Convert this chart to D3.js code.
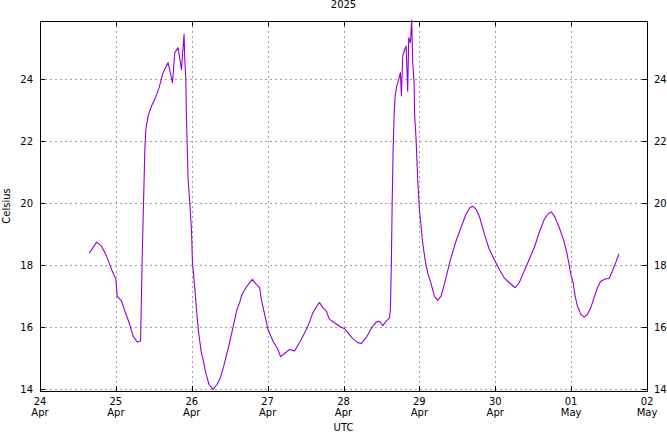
<!DOCTYPE html>
<html>
<head>
<meta charset="utf-8">
<script src="https://cdn.jsdelivr.net/npm/d3@7"></script>
<style>
  html, body { margin: 0; padding: 0; background: #fff; }
  svg { display: block; font-family: "DejaVu Sans", sans-serif; }
</style>
</head>
<body>
<svg id="chart" width="667" height="432"></svg>
<script>
// ---- data ----
const title = "2025";
const yLabel = "Celsius";
const xLabel = "UTC";
const startDate = "2025-04-24T00:00:00Z";
const endDate = "2025-05-02T00:00:00Z";
// hours since 24 Apr 00:00 UTC
const hours = [
  15.57, 17.91, 19.48, 21.06, 22.64, 24.0, 24.41, 25.80, 26.84, 28.20, 29.46, 30.73, 31.80,
  31.99, 32.31, 32.62, 33.16, 33.47, 34.20, 35.27, 36.32, 37.68, 38.94, 40.52, 41.91, 42.63,
  43.67, 44.75, 45.57, 45.79, 46.11, 46.33, 46.60, 46.85, 47.37, 47.91, 48.22, 48.63, 49.17,
  49.67, 50.31, 51.06, 51.57, 52.42, 53.46, 54.73, 55.99, 57.07, 58.11, 59.46, 61.04, 62.31,
  63.16, 63.70, 65.28, 67.17, 68.43, 69.48, 70.01, 71.06, 72.10, 73.68, 75.26, 76.11, 77.37,
  78.95, 80.53, 82.64, 84.73, 86.31, 87.89, 88.42, 89.47, 90.54, 91.58, 93.16, 94.74, 96.32,
  97.36, 98.94, 100.52, 101.59, 103.17, 104.75, 106.33, 107.37, 108.41, 109.49, 110.53,
  110.84, 111.16, 111.38, 111.70, 112.01, 112.33, 112.84, 113.47, 114.00, 114.32, 114.73,
  115.36, 115.80, 116.31, 116.62, 117.16, 117.57, 117.89, 118.33, 118.52, 118.96, 119.47,
  120.00, 120.54, 121.04, 121.80, 122.62, 123.70, 124.74, 125.78, 126.86, 127.90, 128.94,
  130.01, 131.59, 133.17, 134.75, 136.01, 136.84, 137.91, 138.95, 139.99, 141.07, 142.11,
  143.69, 145.27, 146.85, 148.43, 150.32, 151.58, 153.16, 154.74, 156.32, 157.90, 159.48,
  160.84, 161.79, 162.95, 164.22, 165.57, 166.52, 167.37, 167.91, 168.64, 169.27, 170.00,
  171.07, 172.11, 173.15, 174.22, 175.27, 176.31, 177.38, 178.96, 180.00, 181.05, 182.11,
  183.16
];
const celsius = [
  18.38, 18.74, 18.61, 18.29, 17.86, 17.54, 17.00, 16.84, 16.52, 16.14, 15.71, 15.52, 15.55,
  16.46, 18.18, 19.47, 21.73, 22.38, 22.81, 23.13, 23.35, 23.72, 24.21, 24.53, 23.88, 24.85,
  25.01, 24.31, 25.44, 24.64, 24.05, 22.70, 21.73, 20.76, 20.01, 19.15, 18.08, 17.65, 17.00,
  16.35, 15.71, 15.17, 14.96, 14.53, 14.15, 13.99, 14.15, 14.37, 14.74, 15.28, 15.98, 16.57,
  16.79, 17.00, 17.30, 17.54, 17.38, 17.27, 16.89, 16.41, 15.93, 15.55, 15.28, 15.05, 15.15,
  15.28, 15.23, 15.60, 16.03, 16.46, 16.73, 16.79, 16.63, 16.52, 16.25, 16.14, 16.03, 15.95,
  15.82, 15.63, 15.50, 15.47, 15.66, 15.95, 16.16, 16.19, 16.05, 16.19, 16.30,
  16.57, 18.18, 19.90, 21.73, 22.81, 23.45, 23.77, 23.99, 24.21, 23.45, 24.74,
  24.96, 25.06, 23.61, 25.33, 25.17, 25.90, 24.53, 23.88, 22.81, 22.05, 20.76,
  19.80, 19.26, 18.72, 18.18, 17.75, 17.40, 17.00, 16.86, 17.00, 17.38, 17.81,
  18.24, 18.77, 19.21, 19.64, 19.85, 19.90, 19.80, 19.58, 19.21, 18.83, 18.51,
  18.18, 17.86, 17.59, 17.43, 17.27, 17.43, 17.81, 18.18, 18.56, 19.05, 19.47,
  19.67, 19.71, 19.53, 19.21, 18.83, 18.45, 18.02, 17.70, 17.43, 17.00, 16.68,
  16.41, 16.32, 16.41, 16.63, 16.95, 17.27, 17.48, 17.56, 17.56, 17.81, 18.08,
  18.37
];
const xTickDays = ["24", "25", "26", "27", "28", "29", "30", "01", "02"];
const xTickMonths = ["Apr", "Apr", "Apr", "Apr", "Apr", "Apr", "Apr", "May", "May"];
const yTicks = [14, 16, 18, 20, 22, 24];
const yDomain = [13.94, 25.87];

// ---- chart ----
const svg = d3.select("#chart");
const pLeft = 40, pRight = 647, pTop = 21, pBottom = 391;
const t0 = new Date(startDate);
const x = d3.scaleUtc().domain([t0, new Date(endDate)]).range([pLeft, pRight]);
const y = d3.scaleLinear().domain(yDomain).range([pBottom, pTop]);
const points = hours.map((h, i) => ({ t: new Date(t0.getTime() + h * 3600e3), v: celsius[i] }));
const xTickDates = d3.utcDay.range(t0, d3.utcDay.offset(new Date(endDate), 1));

const grid = svg.append("g").attr("stroke", "#a0a0a0").attr("stroke-width", 1)
  .attr("stroke-dasharray", "2,3");
grid.selectAll("line.gx").data(xTickDates.slice(1, -1)).enter().append("line")
  .attr("x1", d => Math.round(x(d)) + 0.5).attr("x2", d => Math.round(x(d)) + 0.5)
  .attr("y1", pTop).attr("y2", pBottom);
grid.selectAll("line.gy").data(yTicks).enter().append("line")
  .attr("y1", d => Math.round(y(d)) + 0.5).attr("y2", d => Math.round(y(d)) + 0.5)
  .attr("x1", pLeft).attr("x2", pRight);

// data line
const line = d3.line().x(d => x(d.t)).y(d => y(d.v));
svg.append("path").datum(points)
  .attr("fill", "none").attr("stroke", "#9400d3").attr("stroke-width", 1.1)
  .attr("stroke-linejoin", "round")
  .attr("d", line);

// ticks
const tk = svg.append("g").attr("stroke", "#000").attr("stroke-width", 1);
const tl = 5;
xTickDates.forEach(d => {
  const px = Math.round(x(d)) + 0.5;
  tk.append("line").attr("x1", px).attr("x2", px).attr("y1", pBottom).attr("y2", pBottom - tl);
  tk.append("line").attr("x1", px).attr("x2", px).attr("y1", pTop).attr("y2", pTop + tl);
});
yTicks.forEach(d => {
  const py = Math.round(y(d)) + 0.5;
  tk.append("line").attr("x1", pLeft).attr("x2", pLeft + tl).attr("y1", py).attr("y2", py);
  tk.append("line").attr("x1", pRight).attr("x2", pRight - tl).attr("y1", py).attr("y2", py);
});

// border
svg.append("rect").attr("x", pLeft + 0.5).attr("y", pTop + 0.5)
  .attr("width", pRight - pLeft).attr("height", pBottom - pTop)
  .attr("fill", "none").attr("stroke", "#000").attr("stroke-width", 1);

// labels
const fs = 10;
const txt = svg.append("g").attr("font-size", fs).attr("fill", "#000");
yTicks.forEach(d => {
  txt.append("text").attr("x", 33).attr("y", y(d) + 4).attr("text-anchor", "end").text(d);
  txt.append("text").attr("x", 654).attr("y", y(d) + 4).attr("text-anchor", "start").text(d);
});
xTickDates.forEach((d, i) => {
  txt.append("text").attr("x", x(d)).attr("y", 405).attr("text-anchor", "middle").text(xTickDays[i]);
  txt.append("text").attr("x", x(d)).attr("y", 416).attr("text-anchor", "middle").text(xTickMonths[i]);
});
txt.append("text").attr("x", (pLeft + pRight) / 2).attr("y", 8).attr("text-anchor", "middle").text(title);
txt.append("text").attr("x", (pLeft + pRight) / 2).attr("y", 431).attr("text-anchor", "middle").text(xLabel);
txt.append("text").attr("transform", `translate(10,${(pTop + pBottom) / 2}) rotate(-90)`)
  .attr("text-anchor", "middle").text(yLabel);
</script>
</body>
</html>
